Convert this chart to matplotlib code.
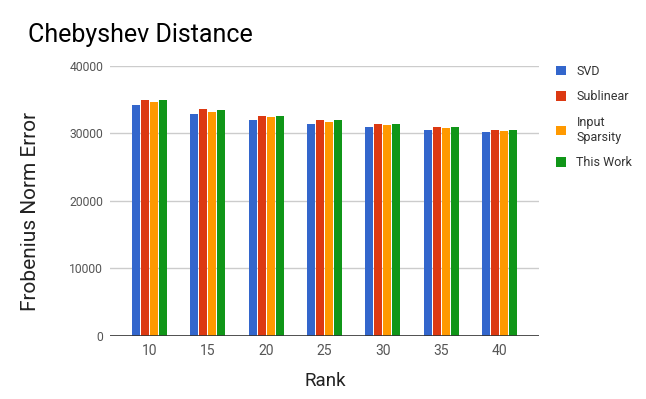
import matplotlib
matplotlib.use("Agg")
import matplotlib.pyplot as plt
import numpy as np

plt.rcParams["font.family"] = ["Roboto", "DejaVu Sans"]

ranks = ["10", "15", "20", "25", "30", "35", "40"]
svd = [34200, 32900, 32000, 31400, 30950, 30500, 30200]
sublinear = [34950, 33600, 32600, 32000, 31400, 30950, 30500]
input_sparsity = [34650, 33200, 32450, 31700, 31250, 30800, 30350]
this_work = [34950, 33450, 32600, 32000, 31400, 30950, 30500]

series = [
    ("SVD", svd, "#3366cc"),
    ("Sublinear", sublinear, "#dc3912"),
    ("Input\nSparsity", input_sparsity, "#ff9900"),
    ("This Work", this_work, "#109618"),
]

fig = plt.figure(figsize=(6.46, 3.99), dpi=100)
ax = fig.add_axes([0.1703, 0.1579, 0.6641, 0.6767])

x = np.arange(len(ranks))
width = 0.137
step = 0.154
for i, (label, values, color) in enumerate(series):
    ax.bar(x + (i - 1.5) * step, values, width=width, color=color, label=label, zorder=3)

ax.set_xlim(-0.677, len(ranks) - 1 + 0.677)
ax.set_ylim(0, 40000)
ax.set_yticks([0, 10000, 20000, 30000, 40000])
ax.set_xticks(x)
ax.set_xticklabels(ranks)
ax.grid(axis="y", color="#cccccc", linewidth=1, zorder=0)
ax.axhline(0, color="#333333", linewidth=1.2, zorder=4)
for spine in ax.spines.values():
    spine.set_visible(False)
ax.tick_params(axis="both", length=0)
ax.tick_params(axis="y", labelsize=8.7, colors="#555555", pad=5)
ax.tick_params(axis="x", labelsize=10, colors="#555555", pad=6)

# axis titles placed in figure coords to match the reference
fig.text(325 / 646, 1 - 381.5 / 399, "Rank", fontsize=13.5, color="#222222", ha="center", va="center")
fig.text(31 / 646, 1 - 211 / 399, "Frobenius Norm Error", fontsize=15, color="#222222",
         ha="center", va="center", rotation=90)

fig.text(28 / 646, 1 - 35 / 399, "Chebyshev Distance", fontsize=18, color="#000000", va="center", ha="left")

leg = ax.legend(
    loc="upper left",
    bbox_to_anchor=(556 / 646, 1 - 65 / 399),
    bbox_transform=fig.transFigure,
    frameon=False,
    fontsize=9,
    handlelength=0.78,
    handleheight=0.78,
    handletextpad=0.85,
    labelspacing=1.0,
    borderpad=0,
    borderaxespad=0,
)
for t in leg.get_texts():
    t.set_color("#333333")

fig.savefig("out.png", dpi=100)
